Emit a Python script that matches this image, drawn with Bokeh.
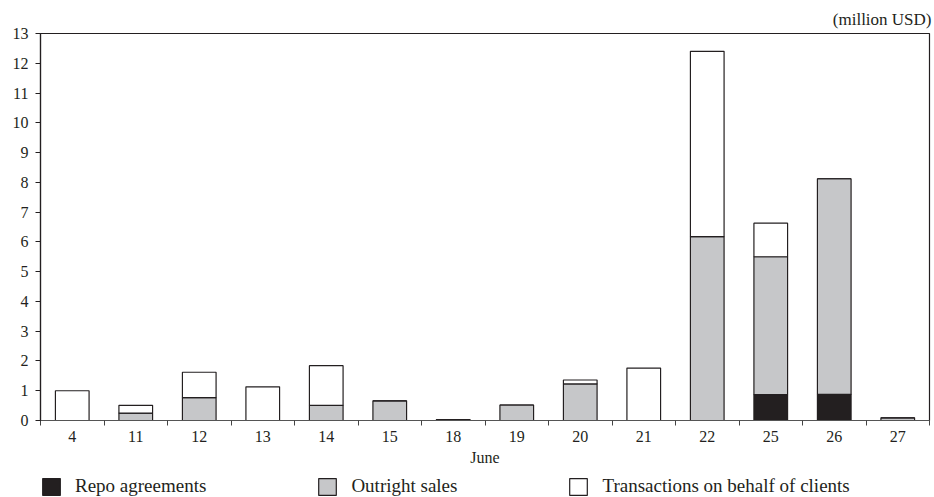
from bokeh.plotting import figure
from bokeh.layouts import column
from bokeh.models import (ColumnDataSource, FixedTicker, Legend, LegendItem, Range1d)
from bokeh.embed import file_html
from bokeh.resources import INLINE

days = ["4", "11", "12", "13", "14", "15", "18", "19", "20", "21", "22", "25", "26", "27"]
repo = [0, 0, 0, 0, 0, 0, 0, 0, 0, 0, 0, 0.87, 0.88, 0]
outright = [0, 0.25, 0.77, 0, 0.51, 0.66, 0.03, 0.52, 1.23, 0, 6.18, 4.63, 7.24, 0.09]
clients = [1.0, 0.26, 0.85, 1.13, 1.33, 0, 0, 0, 0.13, 1.76, 6.22, 1.13, 0, 0]
series_names = ["Repo agreements", "Outright sales", "Transactions on behalf of clients"]
y_ticks = list(range(0, 14))
unit_label = "(million USD)"
x_axis_label = "June"

FONT = "Liberation Serif"
TXT = "#231f20"
COLORS = ["#231f20", "#c6c7c9", "#ffffff"]

xpos = [i + 0.5 for i in range(len(days))]
src = ColumnDataSource(dict(x=xpos, repo=repo, outright=outright, clients=clients))

p = figure(width=934, height=470, output_backend="svg", toolbar_location=None,
           x_range=Range1d(0, len(days)), y_range=Range1d(0, 13),
           min_border_left=40, min_border_right=5, min_border_top=33, min_border_bottom=50)

renderers = p.vbar_stack(["repo", "outright", "clients"], x="x", width=0.53, source=src,
                         fill_color=COLORS, line_color="#231f20", line_width=1.2)

p.title.text = unit_label
p.title.align = "right"
p.title.text_font = FONT
p.title.text_font_style = "normal"
p.title.text_font_size = "17px"
p.title.text_color = TXT
p.title.offset = -2

p.xgrid.visible = False
p.ygrid.visible = False
p.outline_line_color = "#231f20"
p.outline_line_width = 1.2
p.background_fill_color = "white"
p.border_fill_color = "white"

# x axis
xa = p.xaxis[0]
xa.ticker = FixedTicker(ticks=xpos, minor_ticks=list(range(0, len(days) + 1)))
xa.major_label_overrides = {x: d for x, d in zip(xpos, days)}
xa.major_tick_out = 0
xa.major_tick_in = 0
xa.minor_tick_out = 5
xa.minor_tick_in = 0
xa.minor_tick_line_color = "#444444"
xa.axis_line_color = "#555555"
xa.axis_line_width = 1.2
xa.major_label_standoff = 5
xa.major_label_text_font = FONT
xa.major_label_text_font_size = "16px"
xa.major_label_text_color = TXT
xa.axis_label = x_axis_label
xa.axis_label_standoff = 4
xa.axis_label_text_font = FONT
xa.axis_label_text_font_size = "16px"
xa.axis_label_text_font_style = "normal"
xa.axis_label_text_color = TXT

# y axis
ya = p.yaxis[0]
ya.ticker = FixedTicker(ticks=y_ticks)
ya.major_tick_out = 5
ya.major_tick_in = 0
ya.minor_tick_out = 0
ya.minor_tick_in = 0
ya.axis_line_color = "#231f20"
ya.axis_line_width = 1.2
ya.major_tick_line_color = "#231f20"
ya.major_label_standoff = 7
ya.major_label_text_font = FONT
ya.major_label_text_font_size = "16px"
ya.major_label_text_color = TXT

# legend strip below the chart (legend-only renderers kept outside the visible range)
p2 = figure(width=934, height=27, output_backend="svg", toolbar_location=None,
            x_range=Range1d(0, 1), y_range=Range1d(0, 1),
            min_border_left=0, min_border_right=0, min_border_top=0, min_border_bottom=0)
p2.axis.visible = False
p2.xgrid.visible = False
p2.ygrid.visible = False
p2.outline_line_color = None
p2.background_fill_color = "white"
p2.border_fill_color = "white"
leg_src = ColumnDataSource(dict(x=[-10], top=[0]))
leg_renderers = [p2.vbar(x="x", top="top", width=0.1, source=leg_src, fill_color=c,
                         line_color="#231f20", line_width=1.2) for c in COLORS]

legend = Legend(items=[LegendItem(label=n, renderers=[r]) for n, r in zip(series_names, leg_renderers)],
                orientation="horizontal", location=(0, 0),
                glyph_width=22, glyph_height=21, label_standoff=13, spacing=110,
                padding=0, margin=0, border_line_color=None,
                label_text_font=FONT, label_text_font_size="19px", label_text_color=TXT,
                background_fill_alpha=0)
p2.add_layout(legend, "center")

layout = column(p, p2, spacing=0)
open("out.html", "w").write(file_html(layout, INLINE))
